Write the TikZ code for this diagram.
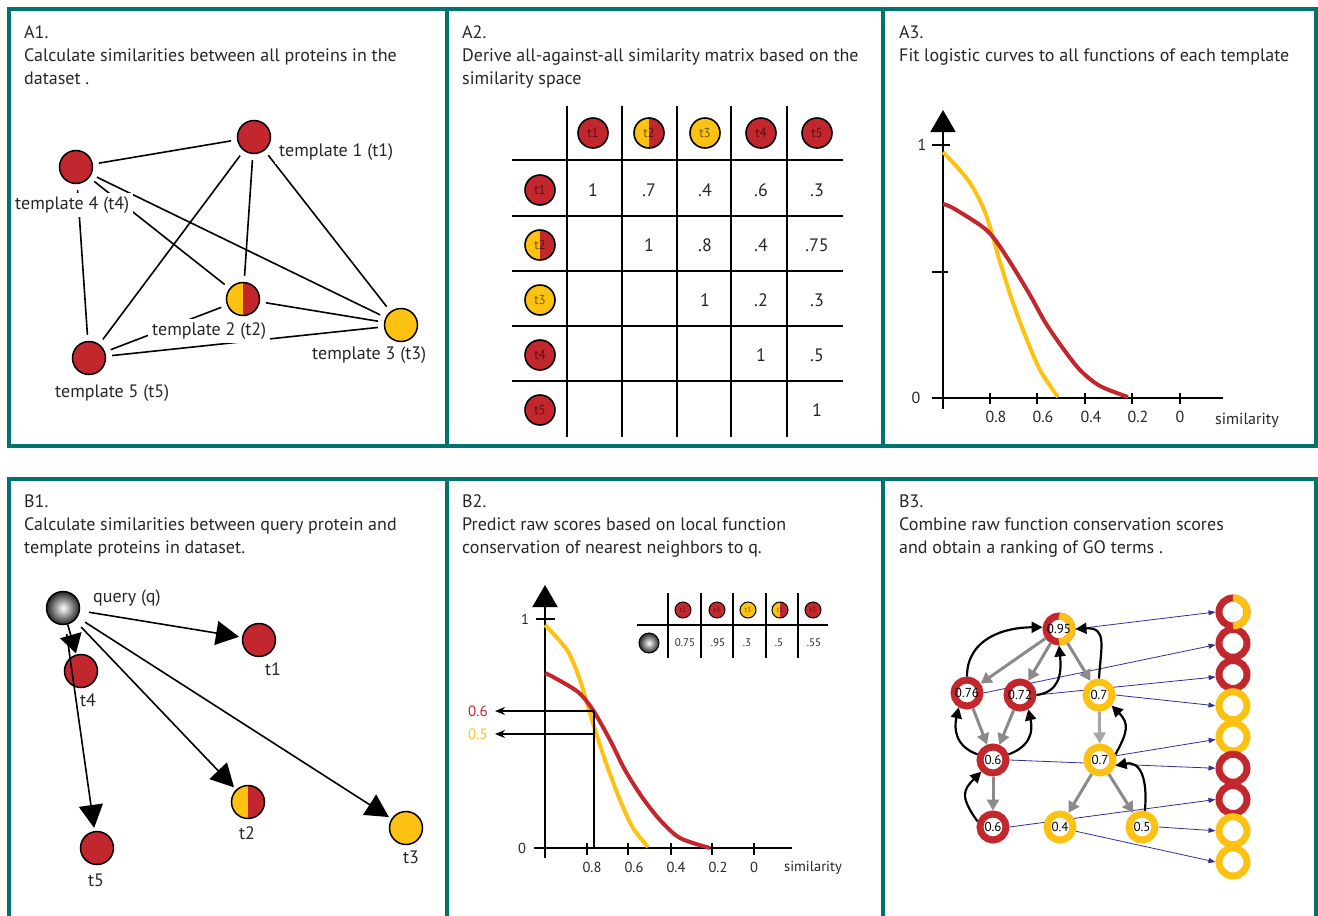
\documentclass[tikz,border=0pt]{standalone}
\usepackage{fontspec}
\setmainfont{PT Sans}
\usepackage{tikz}
\usetikzlibrary{arrows.meta,backgrounds}
\definecolor{frameteal}{RGB}{0,115,112}
\definecolor{tred}{RGB}{193,39,45}
\definecolor{tyel}{RGB}{253,193,18}
\definecolor{navyarr}{RGB}{46,49,146}
\definecolor{grayarr}{RGB}{138,138,138}

\begin{document}
\begin{tikzpicture}[x=1pt,y=-1pt,
	frame/.style={draw=frameteal, line width=4.5pt},
	ttl/.style={anchor=base west, inner sep=0, font=\fontsize{18}{22}\selectfont, text=black!85},
	txt/.style={inner sep=0, font=\fontsize{18}{22}\selectfont, text=black!85},
	prot/.style={circle, draw=black, line width=1.5pt, minimum size=33pt, inner sep=0},
	redp/.style={prot, fill=tred},
	yelp/.style={prot, fill=tyel},
	halfp/.style={prot, fill=tred, path picture={\fill[tyel] (path picture bounding box.south west) rectangle (path picture bounding box.north);}},
	tline/.style={line width=1.6pt, shorten <=6pt, shorten >=6pt},
	tlab/.style={txt, fill=white, inner sep=4pt, anchor=west},
	mline/.style={line width=1.8pt},
	cell/.style={minimum size=30pt, line width=1.6pt, font=\fontsize{13}{15}\selectfont, text=black, text opacity=0.55},
	axln/.style={line width=1.8pt},
	axhead/.style={axln, -{Triangle[length=22pt,width=25pt]}},
	num/.style={inner sep=0, font=\fontsize{16}{18}\selectfont, text=black!85},
	numb/.style={num, font=\fontsize{14.5}{17}\selectfont},
	curve/.style={line width=4pt},
	qball/.style={circle, draw=black, line width=1.5pt, minimum size=33pt, inner sep=0, inner color=white, outer color=black!85},
	qarr/.style={line width=1.6pt, -{Triangle[length=23pt,width=24pt]}, shorten <=9pt, shorten >=3pt},
	harr/.style={line width=1.6pt, -{Stealth[length=10pt,width=8pt]}},
	mini/.style={minimum size=16pt, line width=1pt, font=\fontsize{7}{8}\selectfont, text=black, text opacity=0.5},
	ival/.style={inner sep=0, font=\fontsize{11}{12}\selectfont, text=black!85},
	ring/.style={circle, draw=#1, line width=7pt, fill=white, minimum size=26pt, inner sep=0, font=\fontsize{13}{15}\selectfont},
	gring/.style={circle, draw=#1, line width=7pt, fill=white, minimum size=28pt, inner sep=0},
	garr/.style={draw=grayarr, line width=3pt, -{Triangle[length=11pt,width=12pt]}},
	barr/.style={line width=2.2pt, -{Triangle[length=11pt,width=11pt]}},
	blarr/.style={draw=navyarr, line width=0.8pt, -{Triangle[length=7pt,width=5pt]}}
]
\useasboundingbox (0,0) rectangle (1318,916);

% panel frames
\draw[frame] (9,9) rectangle (1316,446);
\draw[frame] (447,9) -- (447,446);
\draw[frame] (883,9) -- (883,446);
\draw[frame] (9,916) -- (9,479) -- (1316,479) -- (1316,916);
\draw[frame] (447,479) -- (447,916);
\draw[frame] (883,479) -- (883,916);

% panel titles
\foreach \px/\py/\nm/\hd/\la/\lb in {
	24/38/a1/A1./{Calculate similarities between all proteins in the}/{dataset .},
	462/38/a2/A2./{Derive all-against-all similarity matrix based on the}/{similarity space},
	899/38/a3/A3./{Fit logistic curves to all functions of each template}/{},
	24/507/b1/B1./{Calculate similarities between query protein and}/{template proteins in dataset.},
	462/507/b2/B2./{Predict raw scores based on local function}/{conservation of nearest neighbors to q.},
	899/507/b3/B3./{Combine raw function conservation scores}/{and obtain a ranking of GO terms .}
}
{
	\node[ttl] (\nm-h) at (\px,\py) {\hd};
	\node[ttl] (\nm-a) at (\px,\py+23) {\la};
	\node[ttl] (\nm-b) at (\px,\py+46) {\lb};
}

% A1: similarity space
\node[redp] (t1) at (254,137) {};
\node[redp] (t4) at (76,167) {};
\node[halfp] (t2) at (243,299) {};
\node[yelp] (t3) at (401,325) {};
\node[redp] (t5) at (89,358) {};
\begin{scope}[on background layer]
	\foreach \a/\b in {t4/t1,t4/t2,t4/t3,t4/t5,t1/t5,t1/t2,t1/t3,t2/t3,t2/t5,t5/t3}
		\draw[tline] (\a) -- (\b);
	\node[tlab] (t1-l) at (275,152) {template 1 (t1)};
	\node[tlab] (t4-l) at (11,205) {template 4 (t4)};
	\node[tlab] (t2-l) at (148,331) {template 2 (t2)};
	\node[tlab] (t3-l) at (308,355) {template 3 (t3)};
	\node[tlab] (t5-l) at (51,393) {template 5 (t5)};
\end{scope}

% A2: similarity matrix
\foreach \x in {567,622,677,731,787}
	\draw[mline] (\x,106) -- (\x,437);
\foreach \y in {160,216,271,326,381}
	\draw[mline] (512,\y) -- (843,\y);
\foreach \n/\s in {1/redp,2/halfp,3/yelp,4/redp,5/redp}
{
	\node[\s, cell] (mh\n) at (593+56*\n-56,133) {t\n};
	\node[\s, cell] (mr\n) at (540,190+55*\n-55) {t\n};
}
\foreach \c/\r/\v in {1/1/1,2/1/.7,3/1/.4,4/1/.6,5/1/.3,2/2/1,3/2/.8,4/2/.4,5/2/.75,3/3/1,4/3/.2,5/3/.3,4/4/1,5/4/.5,5/5/1}
	\node[txt] (mv\c\r) at (593+56*\c-56,190+55*\r-55) {\v};

% A3: logistic curves
\coordinate (a3-yb) at (943,409);
\coordinate (a3-yt) at (943,110);
\draw[axhead] (a3-yb) -- (a3-yt);
\draw[axln] (932,398) -- (1223,398);
\draw[axln] (932,145) -- (950,145);
\draw[axln] (932,272) -- (948,272);
\node[num] (a3-one) at (922,145) {1};
\node[num] (a3-zero) at (916,398) {0};
\foreach \x/\lx/\v in {990/996/0.8,1037/1043/0.6,1085/1091/0.4,1132/1138/0.2,1180/1180/0}
{
	\draw[axln] (\x,393) -- (\x,404);
	\node[num] (a3-x\x) at (\lx,417) {\v};
}
\node[num, anchor=west] (a3-sim) at (1215,420) {similarity};
\draw[curve, tyel] plot[smooth] coordinates {(943,152) (968,180) (985,212) (1000,262) (1012,300) (1025,335) (1040,370) (1058,397)};
\draw[curve, tred] plot[smooth] coordinates {(943,204) (953,208) (980,225) (993,237) (1010,262) (1030,295) (1045,322) (1062,347) (1080,370) (1100,386) (1128,397)};

% B1: query against templates
\node[qball] (q) at (63,608) {};
\node[txt, anchor=west] (q-l) at (93,598) {query (q)};
\node[redp] (u1) at (259,640) {};
\node[redp] (u4) at (81,671) {};
\node[halfp] (u2) at (248,802) {};
\node[yelp] (u3) at (406,828) {};
\node[redp] (u5) at (97,848) {};
\node[txt] (u1-l) at (273,669) {t1};
\node[txt] (u4-l) at (88,700) {t4};
\node[txt] (u2-l) at (247,833) {t2};
\node[txt] (u3-l) at (411,857) {t3};
\node[txt] (u5-l) at (96,880) {t5};
\foreach \t in {u1,u2,u3,u5}
	\draw[qarr] (q) -- (\t);
\draw[qarr, -{Triangle[length=19pt,width=22pt]}, shorten <=0pt, shorten >=1pt] (q) -- (u4);

% B2: raw scores from the curves
\coordinate (b2-yb) at (545,858);
\coordinate (b2-yt) at (545,585);
\draw[axhead] (b2-yb) -- (b2-yt);
\draw[axln] (534,848) -- (792,848);
\draw[axln] (536,619) -- (555,619);
\node[numb] (b2-one) at (525,619) {1};
\node[numb] (b2-zero) at (522,848) {0};
\foreach \x/\lx/\v in {587/592/0.8,628/634/0.6,671/676/0.4,712/718/0.2,754/754/0}
{
	\draw[axln] (\x,843) -- (\x,855);
	\node[numb] (b2-x\x) at (\lx,867) {\v};
}
\node[numb, anchor=west] (b2-sim) at (784,868) {similarity};
\draw[curve, tyel] plot[smooth] coordinates {(545,625) (567,650) (580,680) (592,720) (605,760) (620,800) (633,828) (648,847)};
\draw[curve, tred] plot[smooth] coordinates {(545,673) (555,678) (578,692) (593,710) (610,740) (625,770) (642,797) (660,820) (680,838) (710,848)};
\coordinate (b2-foot) at (594,848);
\coordinate (b2-r) at (594,711);
\coordinate (b2-y) at (594,734);
\coordinate (b2-rt) at (495,711);
\coordinate (b2-yt2) at (495,734);
\draw[axln] (b2-foot) -- (b2-r);
\draw[harr] (b2-r) -- (b2-rt);
\draw[harr] (b2-y) -- (b2-yt2);
\node[num, anchor=east, text=tred, font=\fontsize{15}{17}\selectfont] (b2-six) at (488,711) {0.6};
\node[num, anchor=east, text=tyel, font=\fontsize{15}{17}\selectfont] (b2-five) at (488,734) {0.5};
% inset table
\foreach \x in {668,701,733,766,798}
	\draw[line width=1.5pt] (\x,593) -- (\x,658);
\draw[line width=1.5pt] (637,625) -- (828,625);
\foreach \x/\n/\s in {683/1/redp,717/4/redp,748/3/yelp,780/2/halfp,813/5/redp}
	\node[\s, mini] (ih\n) at (\x,610) {t\n};
\node[qball, minimum size=20pt, line width=1pt] (iq) at (649,643) {};
\foreach \x/\v [count=\i] in {685/0.75,718/.95,747/.3,779/.5,814/.55}
	\node[ival] (iv\i) at (\x,643) {\v};

% B3: combined ranking
\def\gstep{31.25}
\node[ring=tred] (n95) at (1059,629) {};
\draw[tyel, line width=7pt] (n95.center) ++(0,-13) arc[start angle=-90, end angle=90, radius=13];
\node[inner sep=0, font=\fontsize{13}{15}\selectfont] (n95-l) at (n95) {0.95};
\node[ring=tred] (n76) at (967,693) {0.76};
\node[ring=tred] (n72) at (1020,695) {0.72};
\node[ring=tyel] (n7a) at (1099,695) {0.7};
\node[ring=tred] (n6a) at (993,760) {0.6};
\node[ring=tyel] (n7b) at (1100,760) {0.7};
\node[ring=tred] (n6b) at (993,827) {0.6};
\node[ring=tyel] (n4) at (1060,827) {0.4};
\node[ring=tyel] (n5) at (1142,827) {0.5};
\foreach \c [count=\k] in {tred,tred,tred,tyel,tyel,tred,tred,tyel,tyel}
	\node[gring=\c] (g\k) at (1233,612+\gstep*\k-\gstep) {};
\draw[tyel, line width=7pt] (g1.center) ++(0,-14) arc[start angle=-90, end angle=90, radius=14];
\foreach \a/\b in {n95/n76,n95/n72,n95/n7a,n76/n6a,n72/n6a,n6a/n6b,n7b/n4,n7b/n5}
	\draw[garr] (\a) -- (\b);
\draw[garr, draw=black!35] (n7a) -- (n7b);
\draw[barr] (n76.north) .. controls +(0,-38) and +(-38,0) .. (n95.174);
\draw[barr] (n72.east) .. controls +(22,-3) and +(3,30) .. (n95.south);
\draw[barr] (n7a.north) .. controls +(2,-32) and +(32,-2) .. (n95.east);
\draw[barr] (n6a.160) .. controls +(-22,-8) and +(-5,22) .. (n76.240);
\draw[barr] (n6a.20) .. controls +(22,-8) and +(5,22) .. (n72.300);
\draw[barr] (n7b.20) .. controls +(12,-22) and +(18,18) .. (n7a.320);
\draw[barr] (n6b.160) .. controls +(-18,-25) and +(-18,18) .. (n6a.225);
\draw[barr] (n5.80) .. controls +(3,-32) and +(25,-5) .. (n7b.340);
\begin{scope}[on background layer]
	\draw[blarr] (n95.east) -- (g1.west);
	\draw[blarr] (n76.east) -- (g2.185);
	\draw[blarr] (n72.east) -- (g3.188);
	\draw[blarr] (n7a.east) -- (g4.west);
	\draw[blarr] (n7b.15) -- (g5.188);
	\draw[blarr] (n6a.east) -- (g6.west);
	\draw[blarr] (n6b.east) -- (g7.west);
	\draw[blarr] (n5.east) -- (g8.west);
	\draw[blarr] (n4.345) -- (g9.west);
\end{scope}
\end{tikzpicture}
\end{document}
